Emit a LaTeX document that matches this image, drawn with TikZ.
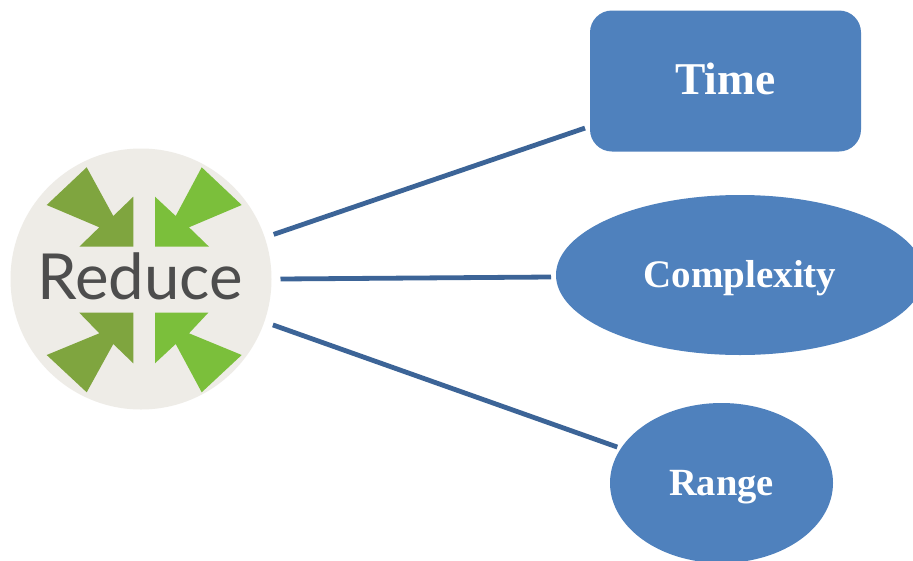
\documentclass[tikz,border=0pt]{standalone}
\usepackage{fontspec}
\setmainfont{Liberation Serif}
\newfontfamily\logofont{Lato}
\usetikzlibrary{shapes.geometric}
\definecolor{boxblue}{HTML}{4F81BD}
\definecolor{linkblue}{HTML}{3C6497}
\definecolor{paper}{HTML}{EEECE7}
\definecolor{leafdark}{HTML}{7FA53F}
\definecolor{leaflight}{HTML}{7BBF3B}
\definecolor{inkgrey}{HTML}{4D4D4D}
\tikzset{
  shapeblue/.style={fill=boxblue,text=white,inner sep=0pt,outer sep=5pt,text depth=0pt},
  link/.style={draw=linkblue,line width=4.8pt},
}
\begin{document}
\begin{tikzpicture}[x=1pt,y=-1pt]
\useasboundingbox (0,0) rectangle (913,560);
\clip (0,0) rectangle (913,560);
\fill[white] (0,0) rectangle (913,560);
\node[circle,fill=paper,minimum size=261pt,inner sep=0pt,outer sep=9pt] (reduce) at (141,279) {};
\fill[leafdark] (86.7,167.3)--(46.7,205)--(99.3,227.3)--(79.3,246.7)--(133.3,246.7)--(133.3,196.7)--(113.3,216)--cycle;
\fill[leaflight] (201.7,167.3)--(241.7,205)--(189,227.3)--(209,246.7)--(155,246.7)--(155,196.7)--(175.7,216)--cycle;
\fill[leafdark] (86.7,392.3)--(46.7,355)--(99.3,333.3)--(79.3,312.7)--(133.3,312.7)--(133.3,363.3)--(113.3,344)--cycle;
\fill[leaflight] (201.7,392.3)--(241.7,355)--(189,333.3)--(208.3,312.7)--(155,312.7)--(155,363.3)--(175.7,344)--cycle;
\node[text=inkgrey,font=\logofont\fontsize{63.5}{63.5}\selectfont,anchor=base,inner sep=0pt] (reducelabel) at (140,299) {Reduce};
\node[shapeblue,rectangle,rounded corners=22pt,minimum width=271pt,minimum height=141pt,text height=26pt,font=\bfseries\fontsize{45.5}{45.5}\selectfont] (time) at (725.5,81) {Time};
\node[shapeblue,ellipse,minimum width=368pt,minimum height=160pt,text height=24pt,font=\bfseries\fontsize{39}{39}\selectfont] (complexity) at (740,275) {Complexity};
\node[shapeblue,ellipse,minimum width=223pt,minimum height=160pt,text height=24pt,font=\bfseries\fontsize{38.5}{38.5}\selectfont] (range) at (721.5,483) {Range};
\draw[link] ([yshift=1.5pt]reduce.18) -- ([yshift=-1.4pt]time.198);
\draw[link] (reduce.0) -- ([yshift=-2pt]complexity.180);
\draw[link] ([yshift=-0.5pt]reduce.-19) -- ([yshift=-2pt]range.160);
\end{tikzpicture}
\end{document}
